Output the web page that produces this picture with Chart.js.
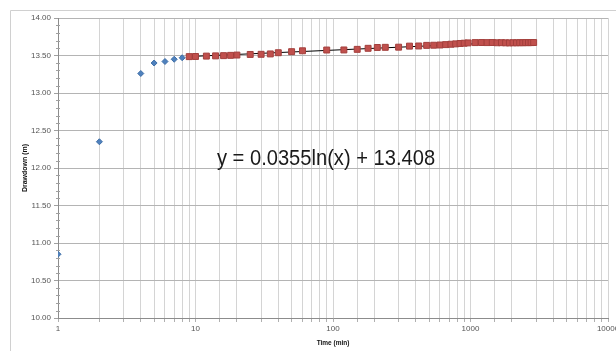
<!DOCTYPE html>
<html>
<head>
<meta charset="utf-8">
<script src="https://cdn.jsdelivr.net/npm/chart.js@4/dist/chart.umd.min.js"></script>
<style>
html,body{margin:0;padding:0;background:#fff;}
#wrap{width:616px;height:351px;position:relative;}
</style>
</head>
<body>
<div id="wrap"><canvas id="c" width="616" height="351"></canvas></div>
<script>
// ---- data ----
const earlyTime = [1, 2, 4, 5, 6, 7, 8];
const earlyDrawdown = [10.85, 12.35, 13.26, 13.40, 13.42, 13.45, 13.47];

const lateTime = [9, 10, 12, 14, 16, 18, 20, 25, 30, 35, 40, 50, 60, 90, 120, 150, 180, 210, 240, 300, 360, 420, 480, 540, 600, 660, 720, 780, 840, 900, 960, 1080, 1200, 1320, 1440, 1560, 1680, 1800, 1920, 2040, 2160, 2280, 2400, 2520, 2640, 2760, 2880];
const lateDrawdown = [13.485, 13.487, 13.492, 13.495, 13.498, 13.502, 13.506, 13.514, 13.516, 13.521, 13.537, 13.551, 13.563, 13.573, 13.574, 13.582, 13.596, 13.607, 13.609, 13.611, 13.625, 13.627, 13.635, 13.637, 13.640, 13.645, 13.650, 13.655, 13.660, 13.664, 13.668, 13.672, 13.673, 13.672, 13.673, 13.670, 13.671, 13.669, 13.668, 13.670, 13.669, 13.671, 13.670, 13.672, 13.671, 13.672, 13.673];

// trendline endpoints (straight on a log time axis)
const trendTime = [9, 2880];
const trendDrawdown = [13.486, 13.691];

const xTickLabels = ['1', '10', '100', '1000', '10000'];
const equationText = 'y = 0.0355ln(x) + 13.408';
const equationAt = {x: 89, y: 12.04};

const xTitle = 'Time (min)';
const yTitle = 'Drawdown (m)';

// ---- build ----
const toPts = (xs, ys) => xs.map((x, i) => ({x: x, y: ys[i]}));

const framePlugin = {
  id: 'frame',
  beforeDraw(chart) {
    const ctx = chart.ctx;
    ctx.save();
    ctx.fillStyle = '#fff';
    ctx.fillRect(0, 0, chart.width, chart.height);
    ctx.strokeStyle = '#d0d0d0';
    ctx.lineWidth = 1;
    ctx.beginPath();
    ctx.moveTo(10.5, chart.height);
    ctx.lineTo(10.5, 10.5);
    ctx.lineTo(chart.width, 10.5);
    ctx.stroke();
    ctx.restore();
  },
  afterDraw(chart) {
    // minor tick marks on value axis
    const y = chart.scales.y, x = chart.scales.x;
    const ctx = chart.ctx;
    ctx.save();
    ctx.strokeStyle = '#a0a0a0';
    ctx.lineWidth = 1;
    ctx.beginPath();
    for (let k = 100; k <= 140; k++) {
      if (k % 5 === 0) continue;
      const py = Math.round(y.getPixelForValue(k / 10)) + 0.5;
      ctx.moveTo(x.left - 2, py);
      ctx.lineTo(x.left + 2, py);
    }
    ctx.stroke();
    ctx.restore();
  }
};

const equationPlugin = {
  id: 'equation',
  afterDatasetsDraw(chart) {
    const ctx = chart.ctx;
    const px = chart.scales.x.getPixelForValue(equationAt.x);
    const py = chart.scales.y.getPixelForValue(equationAt.y);
    ctx.save();
    ctx.font = '22px "Liberation Sans", Arial, sans-serif';
    ctx.fillStyle = '#1a1a1a';
    ctx.textAlign = 'center';
    ctx.textBaseline = 'alphabetic';
    ctx.translate(px, py);
    ctx.scale(0.915, 1);
    ctx.fillText(equationText, 0, 0);
    ctx.restore();
  }
};

new Chart(document.getElementById('c'), {
  type: 'scatter',
  data: {
    datasets: [
      {
        label: 'Trend',
        type: 'line',
        data: toPts(trendTime, trendDrawdown),
        borderColor: '#000',
        borderWidth: 1,
        pointRadius: 0,
        fill: false,
        order: 3
      },
      {
        label: 'Early',
        data: toPts(earlyTime, earlyDrawdown),
        pointStyle: 'rectRot',
        pointRadius: 3,
        backgroundColor: '#4f81bd',
        borderColor: '#3f6fa8',
        borderWidth: 1,
        order: 2
      },
      {
        label: 'Late',
        data: toPts(lateTime, lateDrawdown),
        pointStyle: 'rect',
        pointRadius: 4.2,
        backgroundColor: '#c0504d',
        borderColor: '#a33f3c',
        borderWidth: 1,
        order: 1
      }
    ]
  },
  options: {
    responsive: false,
    animation: false,
    events: [],
    layout: {padding: {left: 14, top: 18, right: 8, bottom: 0}},
    plugins: {legend: {display: false}, tooltip: {enabled: false}},
    scales: {
      x: {
        type: 'logarithmic',
        min: 1,
        max: 10000,
        grid: {color: '#d4d4d4', lineWidth: 1, tickLength: 4, drawTicks: true, tickColor: '#b0b0b0'},
        border: {color: '#8c8c8c', width: 1},
        ticks: {
          autoSkip: false,
          maxRotation: 0,
          padding: 2,
          color: '#555',
          font: {family: '"Liberation Sans", Arial, sans-serif', size: 8},
          callback: function(v) {
            const lg = Math.log10(v);
            if (Math.abs(lg - Math.round(lg)) < 1e-9) {
              return xTickLabels[Math.round(lg)];
            }
            return '';
          }
        },
        title: {
          display: true,
          text: xTitle,
          color: '#111',
          font: {family: '"Liberation Sans", Arial, sans-serif', size: 6.5, weight: 'bold'},
          padding: {top: 0, bottom: 4}
        },
        afterFit(scale) { scale.height = 33; scale.paddingLeft = 0; scale.paddingRight = 0; }
      },
      y: {
        type: 'linear',
        min: 10,
        max: 14,
        grid: {color: '#b4b4b4', lineWidth: 1, tickLength: 4, tickColor: '#a0a0a0'},
        border: {color: '#8c8c8c', width: 1},
        ticks: {
          stepSize: 0.5,
          padding: 3,
          color: '#555',
          font: {family: '"Liberation Sans", Arial, sans-serif', size: 8},
          callback: v => Number(v).toFixed(2)
        },
        title: {
          display: true,
          text: yTitle,
          color: '#111',
          font: {family: '"Liberation Sans", Arial, sans-serif', size: 7, weight: 'bold'},
          padding: {top: 7, bottom: 0}
        },
        afterFit(scale) { scale.width = 44; }
      }
    }
  },
  plugins: [framePlugin, equationPlugin]
});
</script>
</body>
</html>
